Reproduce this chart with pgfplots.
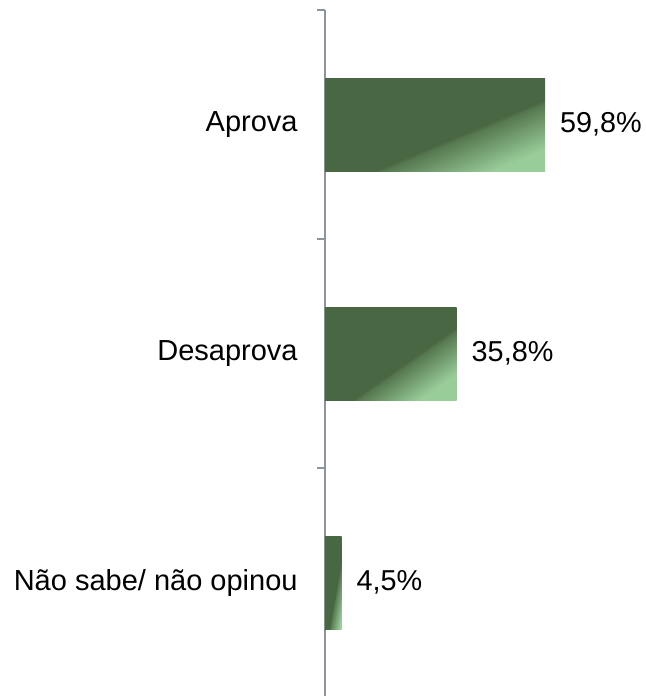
\documentclass[border=0pt]{standalone}
\usepackage{pgfplots}
\pgfplotsset{compat=1.18}
\usepackage{fontspec}
\setmainfont{Liberation Sans}
\definecolor{dkg}{RGB}{74,103,67}
\definecolor{midg}{RGB}{86,120,80}
\definecolor{ltg}{RGB}{152,204,152}
\definecolor{axgray}{RGB}{142,148,156}
\pgfdeclarehorizontalshading{barshade}{100bp}{color(0bp)=(dkg); color(57.5bp)=(dkg); color(58.8bp)=(midg); color(75bp)=(ltg); color(100bp)=(ltg)}
\begin{document}
\begin{tikzpicture}
\begin{axis}[
  at={(0,0)}, anchor=south west,
  scale only axis=true,
  width=119.6pt, height=343.5pt,
  xmin=0, xmax=65,
  ymin=-0.5, ymax=2.5,
  y dir=reverse,
  enlargelimits=false,
  axis x line=none,
  axis y line=left,
  axis line style={-, draw=axgray, line width=0.75pt},
  ytick={0,1,2},
  yticklabels={Aprova, Desaprova, Não sabe/ não opinou},
  major tick length=0pt,
  extra y ticks={-0.5,0.5,1.5,2.5},
  extra y tick labels={},
  extra y tick style={major tick length=4pt, tick align=outside, tick style={draw=axgray, line width=0.75pt}},
  yticklabel style={font=\fontsize{14.5pt}{17pt}\selectfont, inner sep=0pt, xshift=-13.5pt},
  /pgf/number format/assume math mode=true,
  clip=false,
  xbar, bar width=46.5pt, bar shift=0pt,
  nodes near coords={\pgfmathprintnumber[fixed,fixed zerofill,precision=1,use comma,assume math mode=true]{\pgfplotspointmeta}\%},
  every node near coord/.append style={font=\fontsize{14.4pt}{17pt}\selectfont, anchor=west, inner sep=0pt, xshift=7.3pt, text=black},
]
\addplot[draw=none, shading=barshade, shading angle=-67.3] coordinates {(59.8,0)};
\addplot[draw=none, shading=barshade, shading angle=-55.1] coordinates {(35.8,1)};
\addplot[draw=none, shading=barshade, shading angle=-10.2] coordinates {(4.5,2)};
\end{axis}
\pgfresetboundingbox
\path (-162.5pt,0.5pt) rectangle (160.5pt,348.5pt);
\end{tikzpicture}
\end{document}
